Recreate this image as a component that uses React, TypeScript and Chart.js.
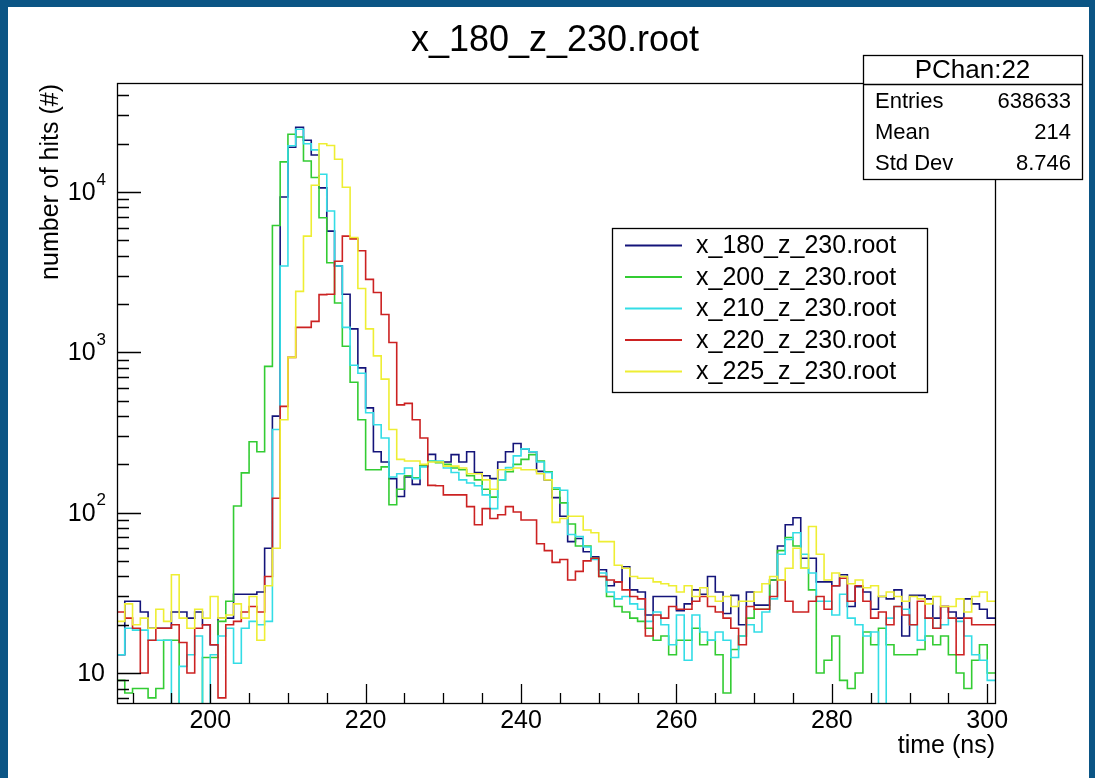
import React, { useEffect, useRef } from 'react';
import { Chart, registerables } from 'chart.js';

Chart.register(...registerables);

// ---------------- text ----------------
const TITLE = 'x_180_z_230.root';
const X_TITLE = 'time (ns)';
const Y_TITLE = 'number of hits (#)';
const STATS_NAME = 'PChan:22';
const statsLabels = ['Entries', 'Mean', 'Std Dev'];
const statsValues = ['638633', '214', '8.746'];

// ---------------- axes ----------------
const X_MIN = 188;
const X_MAX = 301;
const Y_MIN = 6.5;
const Y_MAX = 47800;
const xMajorTicks = [200, 220, 240, 260, 280, 300];
const xMinorTicks = [190, 195, 205, 210, 215, 225, 230, 235, 245, 250, 255, 265, 270, 275, 285, 290, 295];
const yMajorTicks = [10, 100, 1000, 10000];
const yMajorExponents = ['', '2', '3', '4'];
const yMinorTicks = [7, 8, 9, 20, 30, 40, 50, 60, 70, 80, 90, 200, 300, 400, 500, 600, 700, 800, 900,
  2000, 3000, 4000, 5000, 6000, 7000, 8000, 9000, 20000, 30000, 40000];

// ---------------- data (bins of 1 ns starting at 188 ns) ----------------
const seriesNames = ['x_180_z_230.root', 'x_200_z_230.root', 'x_210_z_230.root', 'x_220_z_230.root', 'x_225_z_230.root'];
const seriesColors = ['#14147a', '#33cc33', '#33dde6', '#cc2222', '#eeee33'];

const x180 = [
  13, 28, 28, 24, 19, 19, 19, 24, 24, 22,
  24, 20, 15, 22, 22, 31, 31, 31, 32, 60,
  400, 9300, 19000, 25300, 21000, 17000, 10600, 5700, 3450, 2300,
  1400, 800, 450, 240, 207, 163, 126, 167, 150, 196,
  231, 207, 207, 230, 207, 240, 178, 170, 163, 207,
  240, 270, 250, 240, 181, 160, 124, 95, 66, 69,
  57, 53, 44, 35, 37, 46, 33, 32, 23, 30,
  30, 30, 24.5, 27, 33, 31, 40, 32, 23.5, 30.5,
  20, 32, 26.5, 26.5, 38, 62, 84, 93, 52, 52,
  37, 37, 35, 41, 26, 34.5, 32, 25, 30, 29,
  33, 17, 30.5, 30.5, 29, 22, 26, 24, 22, 29,
  27, 25, 22,
];
const x200 = [
  9, 7.5, 8, 8, 7, 8, 16, 16, 5, 5,
  5, 12.5, 12.5, 21, 28, 110, 177, 277, 240, 817,
  6180, 15400, 22900, 22000, 15600, 12300, 6900, 3620, 2030, 1090,
  650, 380, 185, 185, 193, 112, 140, 170, 165, 195,
  210, 205, 200, 190, 185, 170, 160, 140, 125, 160,
  180, 200, 215, 230, 210, 180, 140, 115, 85, 62,
  62, 52, 40, 30, 26, 24, 22, 21, 19, 16,
  17, 13, 16, 16, 19, 15, 16, 13, 7.5, 14,
  17, 22, 25, 25, 38, 58, 70, 62, 45, 33,
  10, 12, 17, 9, 8, 10, 18, 15, 19, 15,
  13, 13, 13, 14, 17, 15, 17, 13, 10, 8,
  12, 15, 10,
];
const x210 = [
  13, 19, 18.5, 18.5, 16, 16, 16, 5, 11, 13,
  17, 5, 13, 17, 19, 11.5, 19, 21, 20, 21,
  330, 3450, 19400, 24600, 20000, 18300, 12900, 7600, 3450, 1430,
  830, 740, 420, 353, 292, 167, 175, 190, 163, 193,
  210, 210, 190, 178, 160, 153, 147, 129, 106, 160,
  191, 226, 250, 240, 207, 178, 143, 138, 73, 71,
  61, 51, 42, 32, 29, 30, 27, 25, 21, 24,
  20, 15, 23, 12, 23, 18, 16, 18, 16, 12.5,
  17, 20, 18, 24, 29, 55, 68, 75, 55, 42,
  28, 28, 23, 31, 22, 20, 17, 18, 5, 22,
  26, 25, 20, 16, 22, 19, 20, 22, 21, 17,
  13, 12, 9,
];
const x220 = [
  24, 22, 19, 10, 16, 19, 19, 20, 15.5, 10,
  19, 20, 15, 7, 20, 21, 24, 26, 24, 40,
  123, 460, 930, 1430, 1430, 1560, 2290, 2300, 3700, 5300,
  5100, 4300, 2850, 2360, 1720, 1150, 470, 480, 380, 292,
  148, 147, 129, 129, 129, 109, 84, 106, 92, 97,
  109, 101, 90, 90, 64, 58, 49, 51, 38, 43,
  50, 52, 40, 38, 37, 33, 30, 29, 17, 23,
  22, 26, 25, 25, 28, 30, 26, 24, 22, 19,
  15, 26, 25, 25, 30, 38, 28, 24, 24, 28,
  30, 25, 35, 39, 28, 35, 28, 22, 24, 20,
  26, 23, 20, 28, 22, 19, 26, 22, 13, 22,
  20, 20, 20,
];
const x225 = [
  21, 27, 20, 22, 19, 25, 21, 41, 22, 19,
  25, 22, 30, 22, 23, 27, 22, 30, 16, 35,
  60, 380, 930, 2400, 5300, 11000, 20000, 19500, 16000, 10700,
  5200, 2500, 1400, 950, 680, 330, 215, 210, 210, 200,
  207, 207, 195, 195, 190, 175, 175, 160, 140, 185,
  185, 190, 185, 185, 175, 160, 87, 92, 95, 95,
  78, 75, 66, 66, 47, 45, 40, 39, 39, 37,
  36, 35, 32, 35, 30, 34, 30, 28, 30, 26,
  28, 28, 32, 36, 40, 38, 45, 60, 45, 82,
  55, 38, 42, 40, 36, 38, 34, 35, 30, 32,
  30, 28, 30, 29, 27, 30, 26, 26, 29, 24,
  30, 32, 28,
];
const seriesValues = [x180, x200, x210, x220, x225];

// ---------------- style ----------------
const FONT = '"Liberation Sans", Arial, Helvetica, sans-serif';
const BORDER_BLUE = '#0b5585';
const W = 1095;
const H = 778;

function toSteps(values: number[]) {
  const pts = values.map((v, i) => ({ x: X_MIN + i, y: v }));
  pts.push({ x: X_MIN + values.length, y: values[values.length - 1] });
  return pts;
}

const rootPlugin = {
  id: 'rootStyle',
  beforeDraw(chart: any) {
    const ctx = chart.ctx as CanvasRenderingContext2D;
    ctx.save();
    ctx.fillStyle = BORDER_BLUE;
    ctx.fillRect(0, 0, W, H);
    ctx.fillStyle = '#ffffff';
    ctx.fillRect(8, 7, W - 8 - 6, H - 7);
    ctx.restore();
  },
  afterDraw(chart: any) {
    const ctx = chart.ctx as CanvasRenderingContext2D;
    const a = chart.chartArea;
    const xs = chart.scales.x;
    const ys = chart.scales.y;
    ctx.save();
    ctx.strokeStyle = '#000';
    ctx.fillStyle = '#000';
    ctx.lineWidth = 1.3;

    // frame
    ctx.strokeRect(Math.round(a.left) + 0.5, Math.round(a.top) + 0.5, Math.round(a.right - a.left), Math.round(a.bottom - a.top));

    // x ticks
    ctx.beginPath();
    for (const t of xMajorTicks) {
      const px = Math.round(xs.getPixelForValue(t)) + 0.5;
      ctx.moveTo(px, a.bottom);
      ctx.lineTo(px, a.bottom - 19);
    }
    for (const t of xMinorTicks) {
      const px = Math.round(xs.getPixelForValue(t)) + 0.5;
      ctx.moveTo(px, a.bottom);
      ctx.lineTo(px, a.bottom - 10);
    }
    // y ticks
    for (const v of yMajorTicks) {
      const py = Math.round(ys.getPixelForValue(v)) + 0.5;
      ctx.moveTo(a.left, py);
      ctx.lineTo(a.left + 24, py);
    }
    for (const v of yMinorTicks) {
      const py = Math.round(ys.getPixelForValue(v)) + 0.5;
      ctx.moveTo(a.left, py);
      ctx.lineTo(a.left + 12, py);
    }
    ctx.stroke();

    // x tick labels
    ctx.font = `25px ${FONT}`;
    ctx.textAlign = 'center';
    ctx.textBaseline = 'middle';
    for (const t of xMajorTicks) {
      ctx.fillText(String(t), xs.getPixelForValue(t), 721);
    }
    // y tick labels
    yMajorTicks.forEach((v, i) => {
      const py = ys.getPixelForValue(v);
      const exp = yMajorExponents[i];
      const right = 106;
      ctx.textBaseline = 'middle';
      ctx.textAlign = 'right';
      if (exp) {
        ctx.font = `17px ${FONT}`;
        const ew = ctx.measureText(exp).width;
        ctx.fillText(exp, right, py - 12);
        ctx.font = `25px ${FONT}`;
        ctx.fillText('10', right - ew - 1, py + 1);
      } else {
        ctx.font = `25px ${FONT}`;
        ctx.fillText('10', right - 1, py + 1);
      }
    });

    // axis titles
    ctx.font = `25px ${FONT}`;
    ctx.textAlign = 'right';
    ctx.textBaseline = 'middle';
    ctx.fillText(X_TITLE, a.right, 746);
    ctx.save();
    ctx.translate(51, a.top + 1);
    ctx.rotate(-Math.PI / 2);
    ctx.textAlign = 'right';
    ctx.textBaseline = 'middle';
    ctx.fillText(Y_TITLE, 0, 0);
    ctx.restore();

    // title
    ctx.font = `36px ${FONT}`;
    ctx.textAlign = 'center';
    ctx.textBaseline = 'alphabetic';
    ctx.fillText(TITLE, 555, 51);

    // legend
    const lx = 612, ly = 228, lw = 315, lh = 164;
    ctx.fillStyle = '#fff';
    ctx.fillRect(lx, ly, lw, lh);
    ctx.strokeStyle = '#000';
    ctx.lineWidth = 1.3;
    ctx.strokeRect(lx + 0.5, ly + 0.5, lw, lh);
    ctx.font = `25px ${FONT}`;
    ctx.textAlign = 'left';
    ctx.textBaseline = 'middle';
    seriesNames.forEach((name, i) => {
      const yy = 245.5 + i * 31.5;
      ctx.strokeStyle = seriesColors[i];
      ctx.lineWidth = 2;
      ctx.beginPath();
      ctx.moveTo(625, yy);
      ctx.lineTo(682, yy);
      ctx.stroke();
      ctx.fillStyle = '#000';
      ctx.fillText(name, 696, yy + 1);
    });

    // stats box
    const sx = 863, sy = 55, sw = 219, sh = 124;
    ctx.fillStyle = '#fff';
    ctx.fillRect(sx, sy, sw, sh);
    ctx.strokeStyle = '#000';
    ctx.lineWidth = 1.3;
    ctx.strokeRect(sx + 0.5, sy + 0.5, sw, sh);
    ctx.beginPath();
    ctx.moveTo(sx, 84.5);
    ctx.lineTo(sx + sw, 84.5);
    ctx.stroke();
    ctx.fillStyle = '#000';
    ctx.font = `26px ${FONT}`;
    ctx.textAlign = 'center';
    ctx.fillText(STATS_NAME, sx + sw / 2, 71);
    ctx.font = `22px ${FONT}`;
    statsLabels.forEach((lab, i) => {
      const yy = 102 + i * 31;
      ctx.textAlign = 'left';
      ctx.fillText(lab, 875, yy);
      ctx.textAlign = 'right';
      ctx.fillText(statsValues[i], 1071, yy);
    });
    ctx.restore();
  },
};

export default function App() {
  const ref = useRef<HTMLCanvasElement | null>(null);
  useEffect(() => {
    if (!ref.current) return;
    const datasets = seriesValues.map((vals, i) => ({
      label: seriesNames[i],
      data: toSteps(vals),
      borderColor: seriesColors[i],
      backgroundColor: seriesColors[i],
      borderWidth: 1.6,
      stepped: 'before' as const,
      pointRadius: 0,
      fill: false,
      order: seriesValues.length - i,
    }));
    const chart = new Chart(ref.current, {
      type: 'line',
      data: { datasets },
      options: {
        responsive: false,
        animation: false,
        devicePixelRatio: 1,
        events: [],
        layout: { padding: { left: 117, top: 83, right: W - 995, bottom: H - 703 } },
        scales: {
          x: { type: 'linear', min: X_MIN, max: X_MAX, display: false },
          y: { type: 'logarithmic', min: Y_MIN, max: Y_MAX, display: false },
        },
        plugins: {
          legend: { display: false },
          title: { display: false },
          tooltip: { enabled: false },
        },
        elements: { point: { radius: 0 }, line: { tension: 0 } },
      },
      plugins: [rootPlugin],
    } as any);
    return () => chart.destroy();
  }, []);
  return (
    <div style={{ position: 'fixed', left: 0, top: 0, width: W, height: H }}>
      <canvas ref={ref} width={W} height={H} style={{ display: 'block', width: W, height: H }} />
    </div>
  );
}
